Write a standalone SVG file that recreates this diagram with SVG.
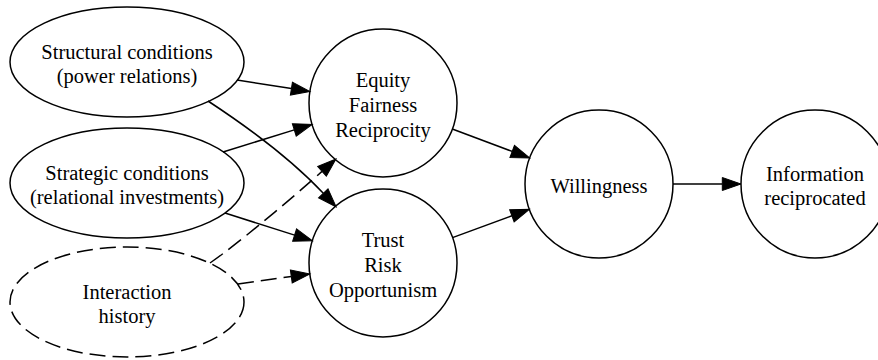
<svg xmlns="http://www.w3.org/2000/svg" width="878" height="360" viewBox="0 0 878 360">
<style>
.n{fill:none;stroke:#000;stroke-width:1.5}
.d{stroke-dasharray:16,7}
.t{font-family:"Liberation Serif","Times New Roman",serif;font-size:20.5px;text-anchor:middle;fill:#000}
.e{fill:none;stroke:#000;stroke-width:1.5}
</style>
<defs>
<marker id="ah" markerUnits="userSpaceOnUse" markerWidth="20" markerHeight="14" viewBox="0 -7 20 14" refX="0" refY="0" orient="auto" overflow="visible">
<path d="M0,-6.5 L18.7,0 L0,6.5 z" fill="#000" stroke="#000" stroke-width="1"/>
</marker>
</defs>
<rect width="878" height="360" fill="#fff"/>
<g id="structural">
<ellipse class="n" cx="127" cy="62" rx="117" ry="55"/>
<text class="t" x="127" y="58.6">Structural conditions</text>
<text class="t" x="127" y="83.4">(power relations)</text>
</g>
<g id="strategic">
<ellipse class="n" cx="127" cy="183" rx="117" ry="55"/>
<text class="t" x="127" y="179.6">Strategic conditions</text>
<text class="t" x="127" y="204.4">(relational investments)</text>
</g>
<g id="interaction">
<ellipse class="n d" cx="127" cy="302" rx="117" ry="55"/>
<text class="t" x="127" y="298.6">Interaction</text>
<text class="t" x="127" y="323.4">history</text>
</g>
<g id="equity">
<circle class="n" cx="383" cy="103" r="74"/>
<text class="t" x="383" y="87.3">Equity</text>
<text class="t" x="383" y="112">Fairness</text>
<text class="t" x="383" y="136.7">Reciprocity</text>
</g>
<g id="trust">
<circle class="n" cx="383" cy="263" r="74"/>
<text class="t" x="383" y="247.3">Trust</text>
<text class="t" x="383" y="272">Risk</text>
<text class="t" x="383" y="296.7">Opportunism</text>
</g>
<g id="willingness">
<circle class="n" cx="599" cy="184" r="74"/>
<text class="t" x="599" y="193">Willingness</text>
</g>
<g id="information">
<circle class="n" cx="815" cy="184" r="74"/>
<text class="t" x="815" y="180.6">Information</text>
<text class="t" x="815" y="205.4">reciprocated</text>
</g>
<g id="connectors">
<path class="e" d="M237,80 L291.4,88.6" marker-end="url(#ah)"/>
<path class="e" d="M208,101 C240,122 290,158 323.3,193.3" marker-end="url(#ah)"/>
<path class="e" d="M223,152 L294.3,129.9" marker-end="url(#ah)"/>
<path class="e" d="M225,213 L294.6,235.1" marker-end="url(#ah)"/>
<path class="e d" d="M210,263 C235,246 290,200 322,171.4" marker-end="url(#ah)"/>
<path class="e d" d="M238,284 L291.3,276.5" marker-end="url(#ah)"/>
<path class="e" d="M452.3,129 L512.2,151.4" marker-end="url(#ah)"/>
<path class="e" d="M452.5,237.6 L511.9,215.8" marker-end="url(#ah)"/>
<path class="e" d="M673,184 L722.3,184" marker-end="url(#ah)"/>
</g>
</svg>
